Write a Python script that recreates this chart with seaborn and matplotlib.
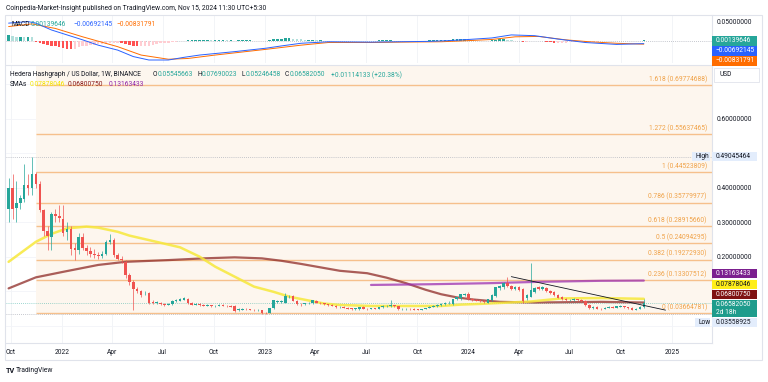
import numpy as np
import pandas as pd
import seaborn as sns
import matplotlib.pyplot as plt
import matplotlib.dates as mdates
from matplotlib.patches import Rectangle

# weekly HBAR/USD candles (Binance), first candle = week of 2021-09-27
week_start = "2021-09-27"

open_ = [0.340, 0.400, 0.342, 0.357, 0.368, 0.410, 0.400, 0.440, 0.413, 0.336,
         0.276, 0.258, 0.325, 0.320, 0.311, 0.272, 0.280, 0.225, 0.220, 0.258,
         0.225, 0.218, 0.210, 0.206, 0.203, 0.210, 0.244, 0.249, 0.205, 0.195,
         0.186, 0.148, 0.128, 0.106, 0.100, 0.095, 0.095, 0.069, 0.066, 0.067,
         0.064, 0.062, 0.064, 0.071, 0.073, 0.076, 0.078, 0.068, 0.062, 0.064,
         0.061, 0.059, 0.060, 0.057, 0.059, 0.061, 0.059, 0.058, 0.058, 0.046,
         0.047, 0.049, 0.048, 0.046, 0.045, 0.045, 0.039, 0.039, 0.052, 0.070,
         0.070, 0.068, 0.086, 0.087, 0.073, 0.064, 0.063, 0.066, 0.066, 0.072,
         0.068, 0.066, 0.063, 0.061, 0.058, 0.054, 0.056, 0.053, 0.051, 0.049,
         0.048, 0.055, 0.050, 0.049, 0.051, 0.050, 0.054, 0.058, 0.058, 0.060,
         0.058, 0.048, 0.049, 0.050, 0.049, 0.048, 0.047, 0.049, 0.052, 0.055,
         0.058, 0.061, 0.063, 0.066, 0.064, 0.077, 0.080, 0.090, 0.092, 0.077,
         0.075, 0.074, 0.072, 0.068, 0.075, 0.087, 0.110, 0.112, 0.126, 0.116,
         0.108, 0.112, 0.106, 0.080, 0.085, 0.099, 0.112, 0.106, 0.110, 0.100,
         0.098, 0.090, 0.084, 0.079, 0.074, 0.075, 0.077, 0.075, 0.072, 0.061,
         0.052, 0.056, 0.050, 0.049, 0.053, 0.056, 0.053, 0.055, 0.057, 0.054,
         0.052, 0.047, 0.049, 0.05545663]
high = [0.430, 0.440, 0.420, 0.380, 0.470, 0.440, 0.49045464, 0.445, 0.420, 0.340,
        0.290, 0.330, 0.340, 0.350, 0.350, 0.300, 0.290, 0.240, 0.270, 0.270,
        0.235, 0.228, 0.222, 0.215, 0.218, 0.250, 0.267, 0.255, 0.212, 0.203,
        0.192, 0.155, 0.132, 0.112, 0.105, 0.102, 0.098, 0.074, 0.072, 0.070,
        0.067, 0.067, 0.075, 0.078, 0.080, 0.083, 0.080, 0.069, 0.066, 0.066,
        0.063, 0.063, 0.062, 0.061, 0.064, 0.063, 0.061, 0.060, 0.060, 0.051,
        0.052, 0.052, 0.050, 0.048, 0.048, 0.047, 0.041, 0.053, 0.076, 0.076,
        0.075, 0.097, 0.091, 0.089, 0.075, 0.066, 0.068, 0.070, 0.076, 0.075,
        0.070, 0.068, 0.065, 0.063, 0.060, 0.058, 0.057, 0.055, 0.052, 0.052,
        0.056, 0.057, 0.052, 0.053, 0.053, 0.055, 0.060, 0.061, 0.075, 0.062,
        0.059, 0.052, 0.052, 0.052, 0.051, 0.050, 0.050, 0.053, 0.057, 0.060,
        0.063, 0.066, 0.069, 0.071, 0.079, 0.085, 0.094, 0.096, 0.099, 0.080,
        0.078, 0.076, 0.074, 0.079, 0.092, 0.114, 0.119, 0.127, 0.141, 0.120,
        0.116, 0.116, 0.110, 0.093, 0.182, 0.112, 0.116, 0.115, 0.113, 0.104,
        0.100, 0.093, 0.086, 0.081, 0.078, 0.080, 0.079, 0.077, 0.074, 0.063,
        0.057, 0.058, 0.052, 0.055, 0.057, 0.058, 0.059, 0.060, 0.059, 0.056,
        0.054, 0.051, 0.057, 0.07690023]
low = [0.300, 0.310, 0.300, 0.340, 0.360, 0.380, 0.380, 0.400, 0.330, 0.260,
       0.220, 0.220, 0.300, 0.300, 0.260, 0.250, 0.205, 0.190, 0.210, 0.220,
       0.205, 0.200, 0.198, 0.195, 0.196, 0.205, 0.238, 0.200, 0.190, 0.183,
       0.140, 0.120, 0.046, 0.095, 0.085, 0.090, 0.064, 0.063, 0.063, 0.060,
       0.059, 0.060, 0.062, 0.069, 0.071, 0.074, 0.064, 0.060, 0.060, 0.058,
       0.057, 0.058, 0.055, 0.056, 0.058, 0.058, 0.056, 0.054, 0.042, 0.044,
       0.046, 0.046, 0.045, 0.043, 0.043, 0.03558925, 0.036, 0.038, 0.050, 0.068,
       0.068, 0.067, 0.082, 0.071, 0.061, 0.058, 0.061, 0.064, 0.064, 0.067,
       0.064, 0.062, 0.059, 0.057, 0.052, 0.053, 0.051, 0.049, 0.047, 0.047,
       0.046, 0.049, 0.047, 0.048, 0.048, 0.049, 0.053, 0.056, 0.056, 0.056,
       0.045, 0.046, 0.047, 0.047, 0.046, 0.045, 0.046, 0.048, 0.051, 0.054,
       0.056, 0.059, 0.061, 0.063, 0.062, 0.074, 0.076, 0.086, 0.075, 0.072,
       0.071, 0.069, 0.067, 0.066, 0.073, 0.085, 0.104, 0.108, 0.113, 0.104,
       0.104, 0.100, 0.068, 0.076, 0.083, 0.096, 0.104, 0.103, 0.098, 0.094,
       0.088, 0.080, 0.075, 0.071, 0.071, 0.073, 0.073, 0.070, 0.059, 0.048,
       0.050, 0.048, 0.047, 0.048, 0.051, 0.051, 0.052, 0.054, 0.052, 0.050,
       0.046, 0.045, 0.048, 0.05246458]
close = [0.400, 0.340, 0.357, 0.370, 0.410, 0.400, 0.440, 0.413, 0.336, 0.276,
         0.260, 0.325, 0.320, 0.312, 0.270, 0.280, 0.223, 0.220, 0.258, 0.225,
         0.218, 0.210, 0.205, 0.203, 0.210, 0.244, 0.248, 0.205, 0.195, 0.190,
         0.148, 0.128, 0.106, 0.100, 0.090, 0.097, 0.068, 0.066, 0.069, 0.063,
         0.062, 0.065, 0.073, 0.075, 0.078, 0.080, 0.066, 0.062, 0.064, 0.060,
         0.059, 0.061, 0.057, 0.059, 0.062, 0.059, 0.057, 0.056, 0.044, 0.049,
         0.050, 0.048, 0.046, 0.045, 0.047, 0.037, 0.037, 0.052, 0.075, 0.072,
         0.072, 0.087, 0.087, 0.073, 0.063, 0.063, 0.066, 0.068, 0.074, 0.068,
         0.066, 0.063, 0.061, 0.058, 0.054, 0.056, 0.053, 0.050, 0.049, 0.051,
         0.055, 0.050, 0.049, 0.051, 0.050, 0.054, 0.058, 0.059, 0.060, 0.058,
         0.048, 0.050, 0.050, 0.049, 0.047, 0.047, 0.049, 0.052, 0.056, 0.058,
         0.062, 0.064, 0.067, 0.068, 0.077, 0.083, 0.092, 0.092, 0.077, 0.075,
         0.073, 0.071, 0.070, 0.077, 0.090, 0.112, 0.116, 0.124, 0.116, 0.108,
         0.112, 0.104, 0.072, 0.090, 0.104, 0.109, 0.108, 0.112, 0.100, 0.096,
         0.090, 0.082, 0.077, 0.074, 0.076, 0.077, 0.075, 0.072, 0.061, 0.052,
         0.055, 0.050, 0.049, 0.053, 0.055, 0.053, 0.057, 0.058, 0.054, 0.052,
         0.047, 0.049, 0.0555, 0.06582050]

# MACD histogram, one bar per week
macd_hist = [0.016, 0.014, 0.011, 0.011, 0.010, 0.011, 0.010, -0.002, -0.006, -0.008,
             -0.010, -0.012, -0.014, -0.016, -0.018, -0.020, -0.021, -0.020, -0.016, -0.014,
             -0.012, -0.011, -0.010, -0.009, -0.008, -0.007, -0.006, -0.004, -0.004, -0.006,
             -0.008, -0.010, -0.012, -0.013, -0.013, -0.012, -0.012, -0.010, -0.008, -0.006,
             -0.005, -0.004, -0.003, -0.002, -0.001, 0.001, 0.002, 0.003, 0.003, 0.003,
             0.003, 0.003, 0.002, 0.003, 0.003, 0.003, 0.002, 0.002, 0.001, 0.002,
             0.002, 0.002, 0.002, 0.001, 0.001, -0.001, -0.001, 0.002, 0.004, 0.005,
             0.006, 0.007, 0.007, 0.006, 0.005, 0.004, 0.003, 0.003, 0.003, 0.002,
             0.002, 0.001, 0.001, 0.0005, 0.0003, 0.0002, -0.001, -0.001, -0.0003, 0.0003,
             0.001, 0.001, 0.001, 0.001, 0.001, 0.002, 0.002, 0.002, 0.002, 0.001,
             0.001, 0.001, 0.0004, 0.0003, 0.0004, 0.001, 0.001, 0.001, 0.002, 0.002,
             0.002, 0.003, 0.003, 0.003, 0.004, 0.004, 0.004, 0.004, 0.003, 0.002,
             0.001, 0.0005, 0.0003, 0.001, 0.002, 0.003, 0.004, 0.004, 0.003, 0.002,
             0.001, 0.0003, -0.002, -0.002, -0.001, -0.001, -0.001, -0.001, -0.002, -0.003,
             -0.004, -0.004, -0.004, -0.004, -0.003, -0.002, -0.002, -0.002, -0.003, -0.003,
             -0.002, -0.002, -0.001, -0.001, -0.001, -0.0003, 0.0003, 0.0003, -0.001, -0.001,
             -0.001, -0.0003, 0.001, 0.00139646]

# MACD / signal lines read at (week index, value)
macd_wk = [0, 5, 7, 11, 15, 19, 23, 28, 32, 36, 41, 45, 49, 58, 66, 70, 75, 82,
           93, 100, 108, 113, 118, 124, 129, 135, 141, 148, 156, 163]
macd_line = [0.047, 0.051, 0.047, 0.029, 0.016, 0.003, -0.011, -0.024, -0.041, -0.050,
             -0.050, -0.043, -0.037, -0.028, -0.019, -0.013, -0.006, -0.002, -0.003, -0.002,
             -0.001, 0.001, 0.004, 0.008, 0.016, 0.014, 0.005, -0.004, -0.009, -0.00692145]
signal_wk = [0, 6, 12, 19, 28, 34, 41, 46, 53, 66, 75, 82, 93, 100, 111, 118, 124,
             130, 136, 143, 149, 156, 163]
signal_line = [0.038, 0.045, 0.033, 0.011, -0.015, -0.037, -0.048, -0.046, -0.037, -0.022,
               -0.011, -0.004, -0.004, -0.003, -0.002, 0.001, 0.004, 0.011, 0.012, 0.003,
               -0.002, -0.006, -0.00831791]

# SMAs read at (week index, value)
sma_yellow_wk = [0, 7, 11, 15, 20, 23, 28, 31, 36, 44, 49, 53, 58, 63, 68, 72, 81, 85,
                 93, 111, 116, 121, 134, 142, 152, 163]
sma_yellow = [0.186, 0.244, 0.267, 0.283, 0.288, 0.285, 0.273, 0.262, 0.249, 0.228,
              0.201, 0.172, 0.143, 0.114, 0.099, 0.085, 0.065, 0.061, 0.058, 0.058,
              0.062, 0.064, 0.071, 0.080, 0.081, 0.07878046]
sma_red_wk = [0, 7, 14, 23, 30, 41, 50, 58, 65, 70, 75, 80, 85, 92, 97, 102, 107, 111,
              115, 119, 126, 135, 152, 163]
sma_red = [0.109, 0.141, 0.157, 0.177, 0.186, 0.191, 0.196, 0.199, 0.196, 0.189,
           0.180, 0.170, 0.160, 0.153, 0.140, 0.124, 0.105, 0.092, 0.083, 0.077,
           0.070, 0.068, 0.070, 0.06800750]
sma_purple_wk = [93, 108, 123, 136, 152, 163]
sma_purple = [0.119, 0.121, 0.124, 0.128, 0.131, 0.13163433]

# Fibonacci retracement
fib_start = "2021-11-15"
fib_ratios = ["0", "0.236", "0.382", "0.5", "0.618", "0.786", "1", "1.272", "1.618"]
fib_prices = [0.03664781, 0.13307512, 0.19272930, 0.24094295, 0.28915660,
              0.35779977, 0.44523809, 0.55637465, 0.69774688]

# descending trendline
trend_dates = ["2024-03-18", "2024-12-20"]
trend_vals = [0.143, 0.046]

# right price scale labels that are not hidden behind the value tags
price_ticks = [0.2, 0.3, 0.4, 0.6]

tick_dates = ["2021-10-01", "2022-01-01", "2022-04-01", "2022-07-01", "2022-10-01",
              "2023-01-01", "2023-04-01", "2023-07-01", "2023-10-01", "2024-01-01",
              "2024-04-01", "2024-07-01", "2024-10-01", "2025-01-01"]
tick_labels = ["Oct", "2022", "Apr", "Jul", "Oct", "2023", "Apr", "Jul", "Oct",
               "2024", "Apr", "Jul", "Oct", "2025"]

UP, DN = "#26a69a", "#ef5350"
TXT = "#131722"
FS = 4.8

sns.set_theme(style="white")
plt.rcParams["font.family"] = ["Roboto", "DejaVu Sans"]

W, H = 768, 382


def fx(px):
    return px / W


def fy(py):
    return 1 - py / H


fig = plt.figure(figsize=(7.68, 3.82), dpi=100)
ax_m = fig.add_axes([fx(6), fy(63), fx(712) - fx(6), (63 - 15) / H])
ax_p = fig.add_axes([fx(6), fy(343), fx(712) - fx(6), (343 - 65) / H])

weeks = pd.date_range(week_start, periods=len(close), freq="7D")
x = mdates.date2num(weeks)
xmin = x[0] - 0.67 * 7
xmax = x[0] + 180.5 * 7
ticks = mdates.date2num(pd.to_datetime(tick_dates))

# ---------- price pane ----------
ax_p.set_xlim(xmin, xmax)
ax_p.set_ylim(-0.0493, 0.7565)
for t in ticks:
    ax_p.axvline(t, color="#f0f2f6", lw=0.6, zorder=0)
    ax_m.axvline(t, color="#f0f2f6", lw=0.6, zorder=0)
for v in np.arange(0, 0.8, 0.1):
    ax_p.axhline(v, color="#f2f4f8", lw=0.6, zorder=0)

fs_x = mdates.date2num(pd.Timestamp(fib_start))
ax_p.fill_between([fs_x, xmax], fib_prices[0], 0.7565, color="#fdf6ee", zorder=0.5, lw=0)
for r, p in zip(fib_ratios, fib_prices):
    ax_p.hlines(p, fs_x, xmax, color="#f6c08c", lw=1.0, zorder=1)
    ax_p.annotate(f"{r} ({p:.8f})", xy=(1, p), xycoords=("axes fraction", "data"),
                  xytext=(-3.6, 1.3), textcoords="offset points", ha="right", va="bottom",
                  fontsize=FS, color="#f0a248")

# high / low / last price lines
ax_p.axhline(max(high), color="#b2b5be", lw=0.6, ls=(0, (1, 1.5)), zorder=1.5)
ax_p.axhline(min(low), color="#b2b5be", lw=0.6, ls=(0, (1, 1.5)), zorder=1.5)
ax_p.axhline(close[-1], color=UP, lw=0.6, ls=(0, (1, 1.5)), alpha=0.6, zorder=1.5)

# SMAs
sns.lineplot(x=x[sma_red_wk], y=sma_red, ax=ax_p, color="#8e2a26", alpha=0.75, lw=1.6,
             estimator=None, sort=False, legend=False, zorder=3)
sns.lineplot(x=x[sma_yellow_wk], y=sma_yellow, ax=ax_p, color="#f7e83a", alpha=0.85, lw=1.8,
             estimator=None, sort=False, legend=False, zorder=3)
sns.lineplot(x=x[sma_purple_wk], y=sma_purple, ax=ax_p, color="#9c2fb0", alpha=0.75, lw=1.6,
             estimator=None, sort=False, legend=False, zorder=3)

# candles
o, h, l, c = map(np.array, (open_, high, low, close))
col = np.where(c >= o, UP, DN)
ax_p.vlines(x, l, h, colors=col, lw=0.5, zorder=4)
ax_p.bar(x, np.maximum(np.abs(c - o), 0.0012), bottom=np.minimum(o, c), width=4.6,
         color=col, lw=0, zorder=5)

# trendline
td = mdates.date2num(pd.to_datetime(trend_dates))
sns.lineplot(x=td, y=trend_vals, ax=ax_p, color="#131722", lw=0.6,
             estimator=None, sort=False, legend=False, zorder=6)

ax_p.set_xticks(ticks)
ax_p.set_xticklabels(tick_labels)
ax_p.yaxis.tick_right()
ax_p.set_yticks(price_ticks)
ax_p.set_yticklabels([f"{v:.8f}" for v in price_ticks])
ax_p.tick_params(axis="both", length=0, labelsize=FS, labelcolor=TXT)
ax_p.tick_params(axis="y", pad=3.6)
ax_p.tick_params(axis="x", pad=4.5)
ax_p.set_xlabel("")
ax_p.set_ylabel("")
ax_p.spines["left"].set_visible(False)
for s in ["top", "right", "bottom"]:
    ax_p.spines[s].set_color("#e0e3eb")
    ax_p.spines[s].set_linewidth(0.8)

# ---------- MACD pane ----------
ax_m.set_xlim(xmin, xmax)
ax_m.set_ylim(-0.0579, 0.0684)
hist = np.array(macd_hist)
prev = np.r_[hist[0], hist[:-1]]
hcol = np.where(hist >= 0, np.where(hist >= prev, "#26a69a", "#b2dfdb"),
                np.where(hist < prev, "#ff5252", "#ffcdd2"))
ax_m.bar(x, hist, width=4.4, color=hcol, lw=0, zorder=2)
ax_m.axhline(0, color="#b2b5be", lw=0.6, ls=(0, (1, 1.5)), zorder=1)
sns.lineplot(x=x[signal_wk], y=signal_line, ax=ax_m, color="#ff6d00", lw=0.7,
             estimator=None, sort=False, legend=False, zorder=3)
sns.lineplot(x=x[macd_wk], y=macd_line, ax=ax_m, color="#2962ff", lw=0.7,
             estimator=None, sort=False, legend=False, zorder=3)
ax_m.yaxis.tick_right()
ax_m.set_yticks([0.05])
ax_m.set_yticklabels(["0.05000000"])
ax_m.set_xticks([])
ax_m.tick_params(axis="y", length=0, labelsize=FS, labelcolor=TXT, pad=3.6)
ax_m.set_xlabel("")
ax_m.set_ylabel("")
for s in ["left", "top", "bottom"]:
    ax_m.spines[s].set_visible(False)
ax_m.spines["right"].set_color("#e0e3eb")
ax_m.spines["right"].set_linewidth(0.8)

# ---------- frame and texts ----------
fig.patches.append(Rectangle((fx(5), fy(360)), fx(762) - fx(5), (360 - 15) / H, fill=False,
                             ec="#e0e3eb", lw=0.8, transform=fig.transFigure, zorder=1))

fig.text(fx(6), fy(8), "Coinpedia-Market-Insight published on TradingView.com, Nov 15, 2024 11:30 UTC+5:30",
         fontsize=4.9, color=TXT, va="center")


def seq(y, parts, x0):
    xp = x0
    for txt, color, w in parts:
        fig.text(fx(xp), fy(y), txt, fontsize=FS, color=color, va="center")
        xp += w


seq(25, [("MACD", TXT, 19), ("0.00139646", UP, 42), ("\u22120.00692145", "#2962ff", 43),
         ("\u22120.00831791", "#ff6d00", 0)], 12)
seq(75, [("Hedera Hashgraph / US Dollar, 1W, BINANCE", TXT, 143),
         ("O", TXT, 5), ("0.05545663", UP, 39), ("H", TXT, 5), ("0.07690023", UP, 40),
         ("L", TXT, 4), ("0.05246458", UP, 39), ("C", TXT, 5), ("0.06582050", UP, 41),
         ("+0.01114133 (+20.38%)", UP, 0)], 10)
seq(85, [("SMAs", TXT, 20), ("0.07878046", "#f5e500", 38), ("0.06800750", "#8b1a1a", 41),
         ("0.13163433", "#8e24aa", 0)], 10)


def tag(y, text, fc, tc, x0=712, x1=757, hgt=9.5):
    fig.patches.append(Rectangle((fx(x0), fy(y + hgt / 2)), fx(x1) - fx(x0), hgt / H,
                                 fc=fc, ec="none", transform=fig.transFigure, zorder=5))
    fig.text(fx(x0 + 3.5), fy(y), text, fontsize=FS, color=tc, va="center", zorder=6)


tag(41, "0.00139646", "#26a69a", "white")
tag(51, "\u22120.00692145", "#2962ff", "white")
tag(61, "\u22120.00831791", "#ff6d00", "white")

fig.patches.append(Rectangle((fx(714), fy(82)), fx(759) - fx(714), 14 / H, fc="white",
                             ec="#e0e3eb", lw=0.6, transform=fig.transFigure, zorder=5))
fig.text(fx(719), fy(75), "USD", fontsize=FS, color=TXT, va="center", zorder=6)

tag(156.5, "0.49045464", "#e3edfc", TXT)
tag(156.5, "High", "#e3edfc", TXT, x0=692, x1=710)
tag(273.5, "0.13163433", "#7b1f8f", "white")
tag(284.5, "0.07878046", "#ffee1a", TXT)
tag(294.5, "0.06800750", "#7f1212", "white")
fig.patches.append(Rectangle((fx(712), fy(317)), fx(757) - fx(712), 17 / H, fc="#1e9c8c",
                             ec="none", transform=fig.transFigure, zorder=5))
fig.text(fx(715.5), fy(304.5), "0.06582050", fontsize=FS, color="white", va="center", zorder=6)
fig.text(fx(715.5), fy(312.5), "2d 18h", fontsize=FS, color="white", va="center", zorder=6)
tag(322.5, "0.03558925", "#e3edfc", TXT)
tag(322.5, "Low", "#e3edfc", TXT, x0=695, x1=710)

fig.text(fx(6), fy(371), "TV", fontsize=5.2, color=TXT, va="center", fontweight="bold")
fig.text(fx(16), fy(371), "TradingView", fontsize=4.9, color=TXT, va="center")

fig.savefig("out.png", dpi=100)
